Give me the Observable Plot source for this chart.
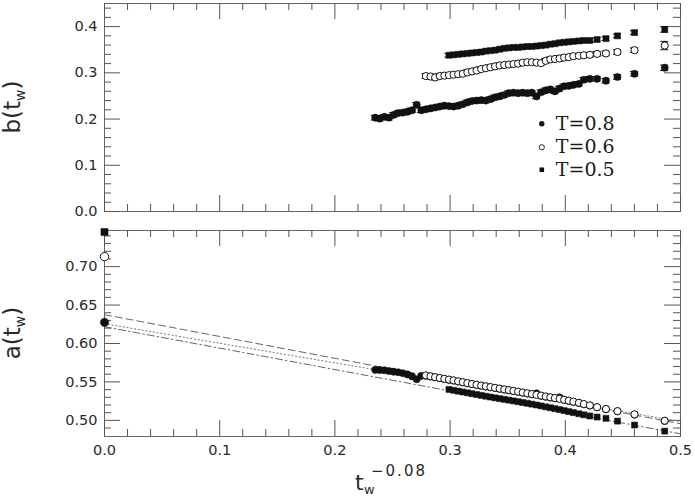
<!DOCTYPE html>
<html><head><meta charset="utf-8">
<script src="https://cdn.jsdelivr.net/npm/d3@7"></script>
<script src="https://cdn.jsdelivr.net/npm/@observablehq/plot@0.6"></script>
<style>body{margin:0;background:#fff;} #chart svg{display:block;}</style>
</head><body><div id="chart"></div>
<script>
// ---------- data ----------
const tw = [0.235,0.239,0.243,0.247,0.251,0.255,0.259,0.263,0.267,0.271,0.275,0.279,0.283,0.287,0.291,0.295,
  0.299,0.303,0.307,0.311,0.315,0.319,0.323,0.327,0.331,0.335,0.339,0.343,0.347,0.351,0.355,0.359,0.363,0.367,
  0.371,0.375,0.379,0.383,0.387,0.391,0.395,0.399,0.403,0.407,0.4118,0.4161,0.4213,0.4276,0.4353,0.4453,0.4601,0.4863];

// b(t_w)
const b08 = [0.203,0.201,0.205,0.203,0.209,0.213,0.214,0.216,0.219,0.231,0.219,0.221,0.223,0.225,0.227,0.229,
  0.228,0.227,0.229,0.232,0.236,0.239,0.240,0.241,0.240,0.243,0.247,0.249,0.252,0.256,0.257,0.256,0.257,0.256,
  0.257,0.249,0.258,0.262,0.264,0.260,0.266,0.271,0.272,0.274,0.276,0.285,0.287,0.287,0.283,0.291,0.298,0.311];
const b06 = [null,null,null,null,null,null,null,null,null,null,null,
  0.293,0.292,0.290,0.293,0.294,0.295,0.296,0.297,0.298,0.301,0.303,0.305,0.308,0.310,0.312,0.314,0.316,0.317,
  0.318,0.319,0.320,0.322,0.323,0.323,0.322,0.321,0.326,0.329,0.330,0.331,0.333,0.334,0.336,
  0.337,0.338,0.339,0.341,0.342,0.345,0.349,0.359];
const b05 = [null,null,null,null,null,null,null,null,null,null,null,null,null,null,null,null,
  0.338,0.339,0.340,0.341,0.342,0.343,0.344,0.345,0.347,0.348,0.349,0.351,0.353,0.354,0.355,0.355,0.356,0.357,
  0.357,0.358,0.359,0.360,0.362,0.363,0.365,0.366,0.367,0.368,0.369,0.370,0.370,0.372,0.374,0.380,0.387,0.394];
const bErr = [0.005, 0.005, 0.004];        // typical error bar half-height per series
const bErrLast = [0.006, 0.009, 0.006];    // error bar of the last (largest x) point

// a(t_w)
const a08 = [0.5657,0.5655,0.5652,0.5642,0.5633,0.5625,0.5613,0.5597,0.5572,0.5535,0.5578,0.5580,0.5570,0.5559,
  0.5548,0.5537,0.5527,0.5517,0.5505,0.5494,0.5482,0.5470,0.5460,0.5450,0.5440,0.5430,0.5420,0.5410,0.5400,
  0.5390,0.5380,0.5370,0.5359,0.5349,0.5339,0.5352,0.5319,0.5308,0.5297,0.5287,0.5300,0.5265,0.5253,0.5240,
  0.5225,0.5209,0.5192,0.5169,0.5145,0.5117,0.5075,0.4992];
const a06 = [null,null,null,null,null,null,null,null,null,null,null,
  0.5585,0.5573,0.5562,0.5551,0.5540,0.5530,0.5520,0.5508,0.5497,0.5485,0.5473,0.5463,0.5453,0.5443,0.5433,
  0.5423,0.5413,0.5403,0.5393,0.5383,0.5373,0.5362,0.5352,0.5342,0.5332,0.5322,0.5311,0.5300,0.5290,0.5280,
  0.5268,0.5256,0.5243,0.5228,0.5212,0.5195,0.5172,0.5148,0.5120,0.5078,0.4995];
const a05 = [null,null,null,null,null,null,null,null,null,null,null,null,null,null,null,null,
  0.5402,0.5391,0.5380,0.5369,0.5358,0.5347,0.5336,0.5325,0.5314,0.5303,0.5293,0.5283,0.5273,0.5263,0.5253,
  0.5243,0.5232,0.5222,0.5211,0.5200,0.5188,0.5176,0.5164,0.5152,0.5140,0.5127,0.5114,0.5101,
  0.5086,0.5072,0.5057,0.5043,0.5026,0.4990,0.4939,0.4860];
const aInf = [0.6275, 0.713, 0.745];       // a at t_w^-0.08 = 0 for T=0.8, 0.6, 0.5

// linear fits
const fitX = [0, 0.5];
const fitDashed  = [0.6375, 0.4956];
const fitDotted  = [0.6257, 0.4985];
const fitDashDot = [0.6218, 0.4825];

const temps = ["T=0.8", "T=0.6", "T=0.5"];

// ticks
const xMajor = [0, 0.1, 0.2, 0.3, 0.4, 0.5];
const xMinor = [0.02,0.04,0.06,0.08,0.12,0.14,0.16,0.18,0.22,0.24,0.26,0.28,0.32,0.34,0.36,0.38,0.42,0.44,0.46,0.48];
const bMajor = [0, 0.1, 0.2, 0.3, 0.4];
const bMinor = [0.02,0.04,0.06,0.08,0.12,0.14,0.16,0.18,0.22,0.24,0.26,0.28,0.32,0.34,0.36,0.38,0.42,0.44];
const aMajor = [0.50, 0.55, 0.60, 0.65, 0.70];
const aMinor = [0.49,0.51,0.52,0.53,0.54,0.56,0.57,0.58,0.59,0.61,0.62,0.63,0.64,0.66,0.67,0.68,0.69,0.71,0.72,0.73,0.74];

// ---------- layout / style ----------
const W = 695, ML = 104, MR = 15;
const FW = W - ML - MR;                 // frame width in px
const xDomain = [0, 0.5];
const bDomain = [0, 0.45];
const aDomain = [0.479, 0.747];
const frameColor = "#666";
const tickColor = "#555";
const ink = "#111";
const MAJ = 16, MIN = 7;
const legendX = 0.3796, legendY = [0.19, 0.139, 0.0903];

function frameTicks(yMaj, yMin, FH) {
  const st = {stroke: tickColor, strokeWidth: 1};
  return [
    Plot.tickX(xMajor, {x: d => d, insetTop: FH - MAJ, ...st}),
    Plot.tickX(xMinor, {x: d => d, insetTop: FH - MIN, ...st}),
    Plot.tickX(xMajor, {x: d => d, insetBottom: FH - MAJ, ...st}),
    Plot.tickX(xMinor, {x: d => d, insetBottom: FH - MIN, ...st}),
    Plot.tickY(yMaj, {y: d => d, insetRight: FW - MAJ, ...st}),
    Plot.tickY(yMin, {y: d => d, insetRight: FW - MIN, ...st}),
    Plot.tickY(yMaj, {y: d => d, insetLeft: FW - MAJ, ...st}),
    Plot.tickY(yMin, {y: d => d, insetLeft: FW - MIN, ...st})
  ];
}

const rows = (ys, k) => tw.map((x, i) => ({x, y: ys[i], e: i === tw.length - 1 ? bErrLast[k] : bErr[k]})).filter(d => d.y != null);
const B = [rows(b08, 0), rows(b06, 1), rows(b05, 2)];
const A = [rows(a08, 0), rows(a06, 1), rows(a05, 2)];

const R = 3.6, RSQ = 3.4;
const filled = {r: R, fill: ink, stroke: ink, strokeWidth: 0.5};
const open = {r: R, fill: "white", stroke: ink, strokeWidth: 1};
const square = {r: RSQ, symbol: "square", fill: ink, stroke: ink, strokeWidth: 0.5};

function errMarks(data) {
  const st = {stroke: ink, strokeWidth: 1};
  return [
    Plot.ruleX(data, {x: "x", y1: d => d.y - d.e, y2: d => d.y + d.e, ...st}),
    Plot.ruleY(data, {y: d => d.y - d.e, x1: "x", x2: "x", insetLeft: -4, insetRight: -4, ...st}),
    Plot.ruleY(data, {y: d => d.y + d.e, x1: "x", x2: "x", insetLeft: -4, insetRight: -4, ...st})
  ];
}

const common = {
  width: W, marginLeft: ML, marginRight: MR,
  style: {background: "white", color: "#2a2a2a", fontFamily: "'DejaVu Sans', sans-serif", overflow: "visible"}
};

// ---------- top panel ----------
const topH = 220, topMT = 3, topMB = 9;
const topPlot = Plot.plot({
  ...common, height: topH, marginTop: topMT, marginBottom: topMB,
  x: {domain: xDomain, axis: null},
  y: {domain: bDomain, axis: null},
  marks: [
    Plot.frame({stroke: frameColor, strokeWidth: 1}),
    ...frameTicks(bMajor, bMinor, topH - topMT - topMB),
    Plot.axisY(bMajor, {anchor: "left", tickSize: 0, tickPadding: 7, tickFormat: d3.format(".1f"), fontSize: 14.5, label: null}),
    ...errMarks(B[0]), ...errMarks(B[1]), ...errMarks(B[2]),
    Plot.dot(B[0], {x: "x", y: "y", ...filled}),
    Plot.dot(B[1], {x: "x", y: "y", ...open}),
    Plot.dot(B[2], {x: "x", y: "y", ...square}),
    // legend
    Plot.dot([0], {x: legendX, y: legendY[0], r: 2.7, fill: ink}),
    Plot.dot([0], {x: legendX, y: legendY[1], r: 2.6, fill: "white", stroke: ink, strokeWidth: 0.9}),
    Plot.dot([0], {x: legendX, y: legendY[2], r: 2.6, symbol: "square", fill: ink}),
    Plot.text(temps, {x: legendX, y: (d, i) => legendY[i], text: d => d, dx: 14, textAnchor: "start", lineAnchor: "middle",
      fontFamily: "'DejaVu Serif', serif", fontSize: 19, fill: "#1a1a1a"})
  ]
});

// ---------- bottom panel ----------
const botH = 278, botMT = 10, botMB = 62;
const botPlot = Plot.plot({
  ...common, height: botH, marginTop: botMT, marginBottom: botMB,
  x: {domain: xDomain},
  y: {domain: aDomain},
  marks: [
    Plot.frame({stroke: frameColor, strokeWidth: 1}),
    ...frameTicks(aMajor, aMinor, botH - botMT - botMB),
    Plot.axisY(aMajor, {anchor: "left", tickSize: 0, tickPadding: 7, tickFormat: d3.format(".2f"), fontSize: 14.5, label: null}),
    Plot.axisX(xMajor, {anchor: "bottom", tickSize: 0, tickPadding: 8, tickFormat: d3.format(".1f"), fontSize: 14.5, label: null}),
    Plot.line(fitX, {x: d => d, y: (d, i) => fitDashed[i], stroke: "#555", strokeWidth: 0.9, strokeDasharray: "7,4"}),
    Plot.line(fitX, {x: d => d, y: (d, i) => fitDotted[i], stroke: "#666", strokeWidth: 0.9, strokeDasharray: "1.2,2.6"}),
    Plot.line(fitX, {x: d => d, y: (d, i) => fitDashDot[i], stroke: "#555", strokeWidth: 0.9, strokeDasharray: "7,3,1.5,3"}),
    Plot.dot(A[0], {x: "x", y: "y", ...filled}),
    Plot.dot(A[2], {x: "x", y: "y", ...square}),
    Plot.dot(A[1], {x: "x", y: "y", ...open}),
    Plot.dot([aInf[0]], {x: 0, y: d => d, ...filled, r: 4.2}),
    Plot.dot([aInf[1]], {x: 0, y: d => d, ...open, r: 4.2}),
    Plot.dot([aInf[2]], {x: 0, y: d => d, ...square, r: 4})
  ]
});

// ---------- axis titles (rich text with sub/superscripts) ----------
function yTitle(svg, letter, cy) {
  const t = d3.select(svg).append("text")
    .attr("transform", `translate(20,${cy}) rotate(-90)`)
    .attr("text-anchor", "middle").attr("font-family", "'DejaVu Sans', sans-serif")
    .attr("font-size", 23).attr("fill", "#2a2a2a");
  t.append("tspan").text(letter + "(t");
  t.append("tspan").attr("font-size", 14).attr("dy", 5).text("w");
  t.append("tspan").attr("dy", -5).text(")");
}
yTitle(topPlot, "b", 107);
yTitle(botPlot, "a", 113);

const xt = d3.select(botPlot).append("text")
  .attr("text-anchor", "start")
  .attr("font-family", "'DejaVu Sans', sans-serif").attr("fill", "#2a2a2a");
xt.append("tspan").attr("x", 355).attr("y", 270).attr("font-size", 22).text("t");
xt.append("tspan").attr("x", 364).attr("y", 274).attr("font-size", 13).text("w");
xt.append("tspan").attr("x", 371).attr("y", 256).attr("font-size", 15).attr("letter-spacing", 2).text("\u22120.08");

document.getElementById("chart").append(topPlot, botPlot);
</script>
</body></html>
